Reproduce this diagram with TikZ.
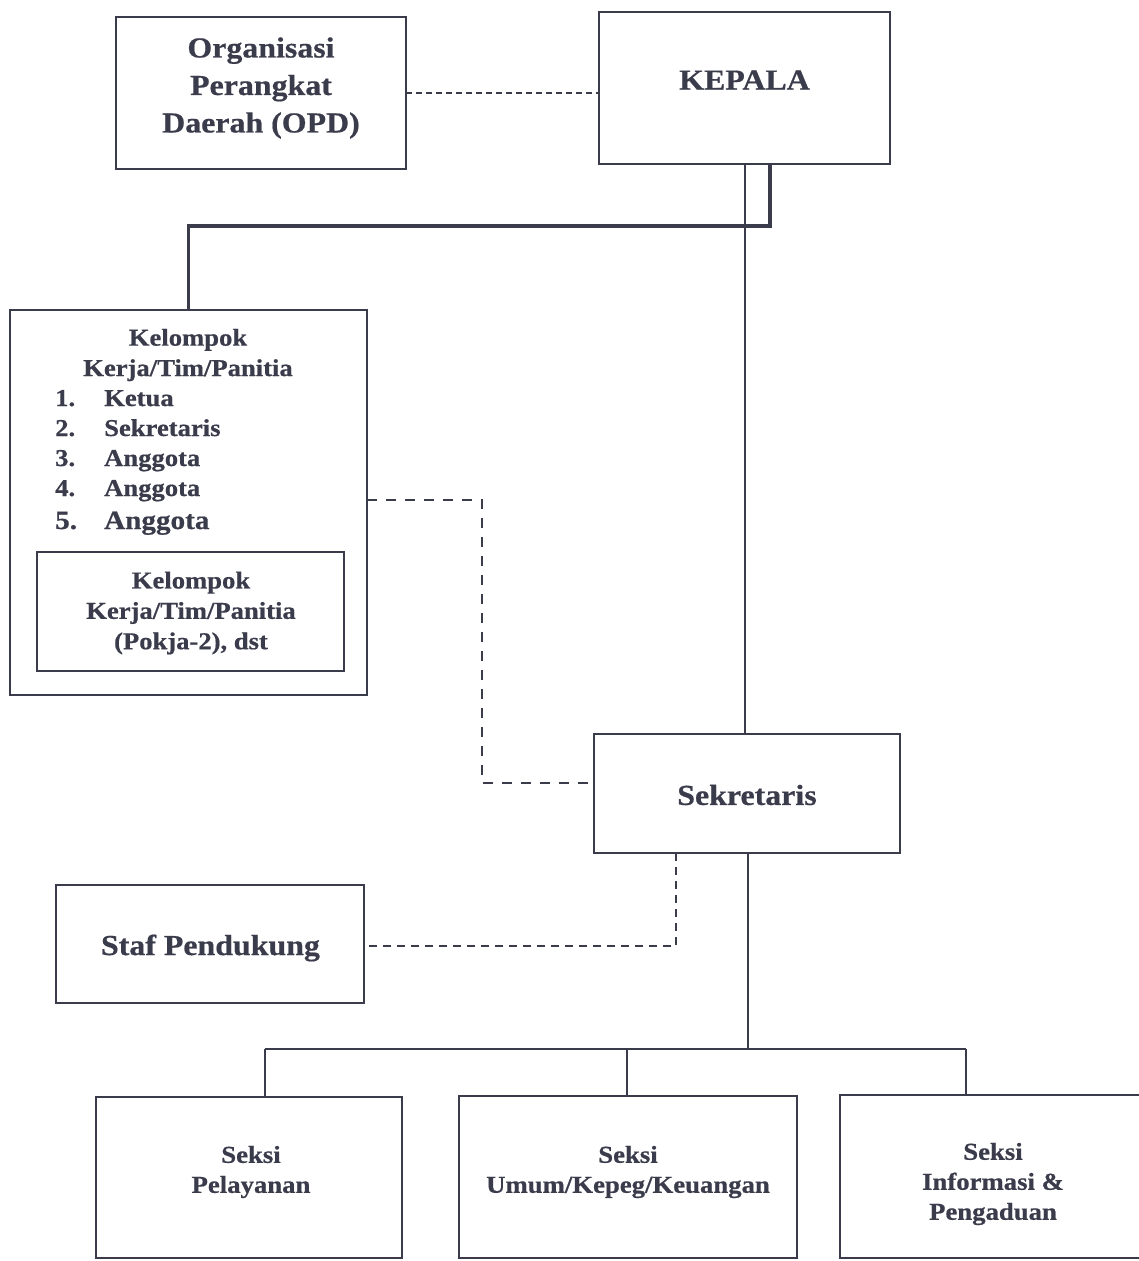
\documentclass[tikz,border=0pt]{standalone}
\usepackage{fontspec}
\setmainfont{Liberation Serif}[FakeStretch=1.1, BoldFeatures={FakeBold=0.6}]
\definecolor{lc}{HTML}{3A3C4C}
\definecolor{tc}{HTML}{3A3C4C}
\tikzset{
  boxst/.style={draw=lc, line width=2pt, outer sep=0pt, inner sep=0pt, fill=none},
  conn/.style={draw=lc, line width=2pt},
  thickconn/.style={draw=lc, line width=3.4pt},
  dsha/.style={draw=lc, line width=2.4pt, dash pattern=on 6pt off 4pt},
  dshb/.style={draw=lc, line width=2.4pt, dash pattern=on 10pt off 9pt},
  dshc/.style={draw=lc, line width=2.3pt, dash pattern=on 8pt off 6pt},
  bigtxt/.style={font=\fontsize{29}{37.5}\selectfont\bfseries, text=tc, align=center, inner sep=0pt},
  midtxt/.style={font=\fontsize{24.2}{30.4}\selectfont\bfseries, text=tc, align=center, inner sep=0pt},
  listtxt/.style={font=\fontsize{24.2}{30.4}\selectfont\bfseries, text=tc, inner sep=0pt, anchor=base west},
  bottxt/.style={font=\fontsize{24.3}{30}\selectfont\bfseries, text=tc, align=center, inner sep=0pt}
}
\begin{document}
\begin{tikzpicture}[x=1pt,y=-1pt]
\useasboundingbox (0,0) rectangle (1139,1261);
\clip (0,0) rectangle (1139,1261);
\fill[white] (0,0) rectangle (1139,1261);

% boxes
\node[boxst, minimum width=290pt, minimum height=152pt] (opd) at (261,93) {};
\node[boxst, minimum width=291pt, minimum height=152pt] (kepala) at (744.5,88) {};
\node[boxst, minimum width=357pt, minimum height=385pt] (kel) at (188.5,502.5) {};
\node[boxst, minimum width=307pt, minimum height=119pt] (inner) at (190.5,611.5) {};
\node[boxst, minimum width=306pt, minimum height=119pt] (sek) at (747,793.5) {};
\node[boxst, minimum width=308pt, minimum height=118pt] (staf) at (210,944) {};
\node[boxst, minimum width=306pt, minimum height=161pt] (pel) at (249,1177.5) {};
\node[boxst, minimum width=338pt, minimum height=162pt] (umum) at (628,1177) {};
\node[boxst, minimum width=320pt, minimum height=163pt] (info) at (1000,1176.5) {};

% texts
\node[bigtxt] (opdt) at (261,88) {Organisasi\\Perangkat\\Daerah (OPD)};
\node[bigtxt] (kepalat) at (744.5,80) {KEPALA};
\node[midtxt] (kelt) at (188,355) {Kelompok\\Kerja/Tim/Panitia};
\node[listtxt] (l1) at (55,406) {\makebox[49pt][l]{1.}Ketua};
\node[listtxt] (l2) at (55,436) {\makebox[49pt][l]{2.}Sekretaris};
\node[listtxt] (l3) at (55,466) {\makebox[49pt][l]{3.}Anggota};
\node[listtxt] (l4) at (55,496) {\makebox[49pt][l]{4.}Anggota};
\node[listtxt, font=\fontsize{26.5}{30.4}\selectfont\bfseries] (l5) at (55,529) {\makebox[49pt][l]{5.}Anggota};
\node[midtxt] (innert) at (191,613) {Kelompok\\Kerja/Tim/Panitia\\(Pokja-2), dst};
\node[bigtxt] (sekt) at (747,795) {Sekretaris};
\node[bigtxt] (staft) at (210.5,948) {Staf Pendukung};
\node[bottxt] (pelt) at (251,1172) {Seksi\\Pelayanan};
\node[bottxt] (umumt) at (628,1172) {Seksi\\Umum/Kepeg/Keuangan};
\node[bottxt] (infot) at (993,1184) {Seksi\\Informasi \&\\Pengaduan};

% connectors
\draw[dsha] (opd.east) -- (kepala.west |- opd.east);
\draw[conn] (kepala.south) -- (kepala.south |- sek.north);
\coordinate (j1) at (770,226);
\draw[thickconn] (kepala.south -| j1) -- (j1) -| (kel.north);
\coordinate (d1) at (482,500);
\coordinate (d2) at (482,783);
\draw[dshb] (kel.east |- d1) -- (d1) -- (d2) -- (sek.west |- d2);
\coordinate (s1) at (676,946);
\draw[dshc] (sek.south -| s1) -- (s1) -- (staf.east |- s1);
\coordinate (h0) at (748,1049);
\coordinate (h1) at (265,1049);
\coordinate (h2) at (627,1049);
\coordinate (h3) at (966,1049);
\draw[conn] (sek.south -| h0) -- (h0);
\draw[conn] (h1) -- (h3);
\draw[conn] (h1) -- (h1 |- pel.north);
\draw[conn] (h2) -- (h2 |- umum.north);
\draw[conn] (h3) -- (h3 |- info.north);
\end{tikzpicture}
\end{document}
